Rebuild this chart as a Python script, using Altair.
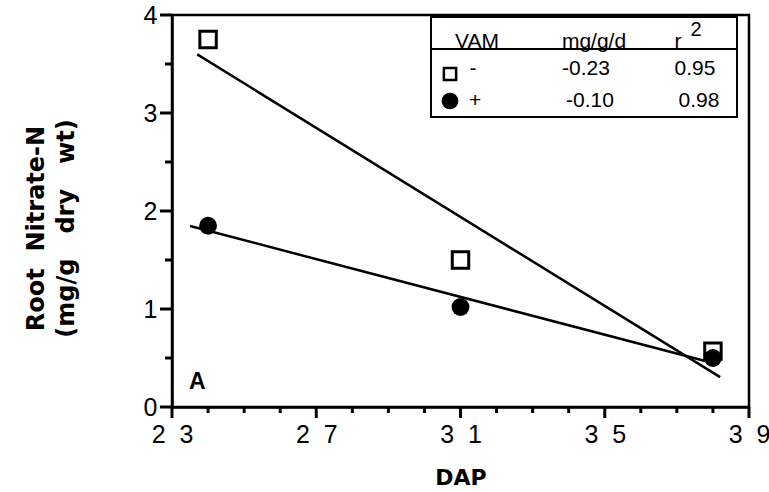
import altair as alt
import pandas as pd

# ---- data ----
dap = [24, 31, 38]
root_no3_minus = [3.75, 1.50, 0.57]   # VAM -  (open squares)
root_no3_plus = [1.85, 1.02, 0.50]    # VAM +  (filled circles)
x_major = [23, 27, 31, 35, 39]
x_minor = [24, 25, 26, 28, 29, 30, 32, 33, 34, 36, 37, 38]
y_major = [0, 1, 2, 3, 4]
y_minor = [0.5, 1.5, 2.5, 3.5]
legend_vam = ["-", "+"]
legend_slope = ["-0.23", "-0.10"]
legend_r2 = ["0.95", "0.98"]
extent_minus = [23.7, 38.2]
extent_plus = [23.5, 38.0]

df = pd.DataFrame({
    "DAP": dap + dap,
    "N": root_no3_minus + root_no3_plus,
    "VAM": ["-"] * 3 + ["+"] * 3,
})

xs = alt.Scale(domain=[23, 39], nice=False, zero=False)
ys = alt.Scale(domain=[0, 4], nice=False, zero=False)
H = 392

NB = "\u00a0"
x_axis = alt.Axis(
    values=x_major, orient="bottom", grid=False, labelFlush=False, labelOverlap=False,
    ticks=True, tickSize=11, tickOpacity=0,
    domainWidth=2.5, domainColor="black",
    labelFont="Liberation Sans", labelFontSize=25, labelColor="black", labelPadding=4,
    labelExpr="slice(datum.label,0,1) + '" + NB + NB + "' + slice(datum.label,1)",
    format="d",
    title="DAP", titleFont="DejaVu Sans", titleFontSize=22, titleFontWeight="bold",
    titleColor="black", titleBaseline="alphabetic", titleY=77,
)
y_axis = alt.Axis(
    values=y_major, orient="left", grid=False, labelFlush=False, labelOverlap=False,
    ticks=True, tickSize=12, tickOpacity=0, format="d",
    domainWidth=2.5, domainColor="black",
    labelFont="Liberation Sans", labelFontSize=25, labelColor="black", labelPadding=3,
    title=["Root" + NB + NB + "Nitrate-N", "(mg/g" + NB + NB + NB + "dry" + NB + NB + NB + "wt)"],
    titleFont="DejaVu Sans", titleFontSize=24, titleFontWeight="bold", titleColor="black",
    titleAngle=270, titleAlign="center", titleBaseline="middle",
    titleLineHeight=30, titleX=-136, titleY=213,
)

base = alt.Chart(df)

line_minus = base.transform_filter("datum.VAM == '-'").transform_regression(
    "DAP", "N", extent=extent_minus
).mark_line(color="black", strokeWidth=2.5).encode(
    x=alt.X("DAP:Q", scale=xs), y=alt.Y("N:Q", scale=ys)
)
line_plus = base.transform_filter("datum.VAM == '+'").transform_regression(
    "DAP", "N", extent=extent_plus
).mark_line(color="black", strokeWidth=2.5).encode(
    x=alt.X("DAP:Q", scale=xs), y=alt.Y("N:Q", scale=ys)
)

squares = base.transform_filter("datum.VAM == '-'").mark_point(
    shape="square", filled=False, stroke="black", strokeWidth=3, size=270, opacity=1
).encode(
    x=alt.X("DAP:Q", scale=xs, axis=x_axis), y=alt.Y("N:Q", scale=ys, axis=y_axis)
)
circles = base.transform_filter("datum.VAM == '+'").mark_point(
    shape="circle", filled=True, color="black", size=320, opacity=1
).encode(
    x=alt.X("DAP:Q", scale=xs), y=alt.Y("N:Q", scale=ys)
)


# ---- tick marks drawn through the scales ----
def xticks(vals, length):
    return alt.Chart(pd.DataFrame({"DAP": vals})).mark_rule(
        color="black", strokeWidth=3, clip=False
    ).encode(x=alt.X("DAP:Q", scale=xs), y=alt.value(H), y2=alt.value(H + length))


def yticks(vals, length):
    return alt.Chart(pd.DataFrame({"N": vals})).mark_rule(
        color="black", strokeWidth=3, clip=False
    ).encode(y=alt.Y("N:Q", scale=ys), x=alt.value(0), x2=alt.value(-length))


ticks = [xticks(x_major, 11), xticks(x_minor, 6), yticks(y_major, 12), yticks(y_minor, 7)]

one = alt.Data(values=[{"k": 1}])


def txt(t, x, y, size=21, align="center", weight="normal", font="Liberation Sans"):
    return alt.Chart(one).mark_text(
        text=t, font=font, fontSize=size, fontWeight=weight, align=align,
        baseline="alphabetic", color="black"
    ).encode(x=alt.value(x), y=alt.value(y))


box = alt.Chart(one).mark_rect(fill="white", stroke="black", strokeWidth=2).encode(
    x=alt.value(259), x2=alt.value(565), y=alt.value(2), y2=alt.value(102)
)
header_rule = alt.Chart(one).mark_rule(color="black", strokeWidth=2).encode(
    x=alt.value(259), x2=alt.value(565), y=alt.value(34)
)
leg_sq = alt.Chart(one).mark_point(shape="square", filled=False, stroke="black",
                                   strokeWidth=2.5, size=150, opacity=1).encode(
    x=alt.value(278), y=alt.value(59))
leg_ci = alt.Chart(one).mark_point(shape="circle", filled=True, color="black",
                                   size=280, opacity=1).encode(
    x=alt.value(278), y=alt.value(86))

texts = [
    txt("VAM", 305, 33),
    txt("mg/g/d", 422, 33),
    txt("r", 506, 33),
    txt("2", 524, 21, size=20),
    txt(legend_vam[0], 301, 60),
    txt(legend_slope[0], 414, 60),
    txt(legend_r2[0], 523, 60),
    txt(legend_vam[1], 303, 92),
    txt(legend_slope[1], 418, 92),
    txt(legend_r2[1], 527, 92),
    txt("A", 17, 374, size=23, align="left", weight="bold"),
]

chart = alt.layer(
    squares, *ticks, line_minus, line_plus, circles, box, header_rule, leg_sq, leg_ci, *texts
).properties(
    width=577, height=H,
    padding={"left": 172, "top": 15, "right": 20, "bottom": 85},
    autosize=alt.AutoSizeParams(type="none"),
    background="white",
).configure_view(stroke="black", strokeWidth=2.5)

chart.save("out.html", embed_options={"renderer": "svg", "actions": False})
